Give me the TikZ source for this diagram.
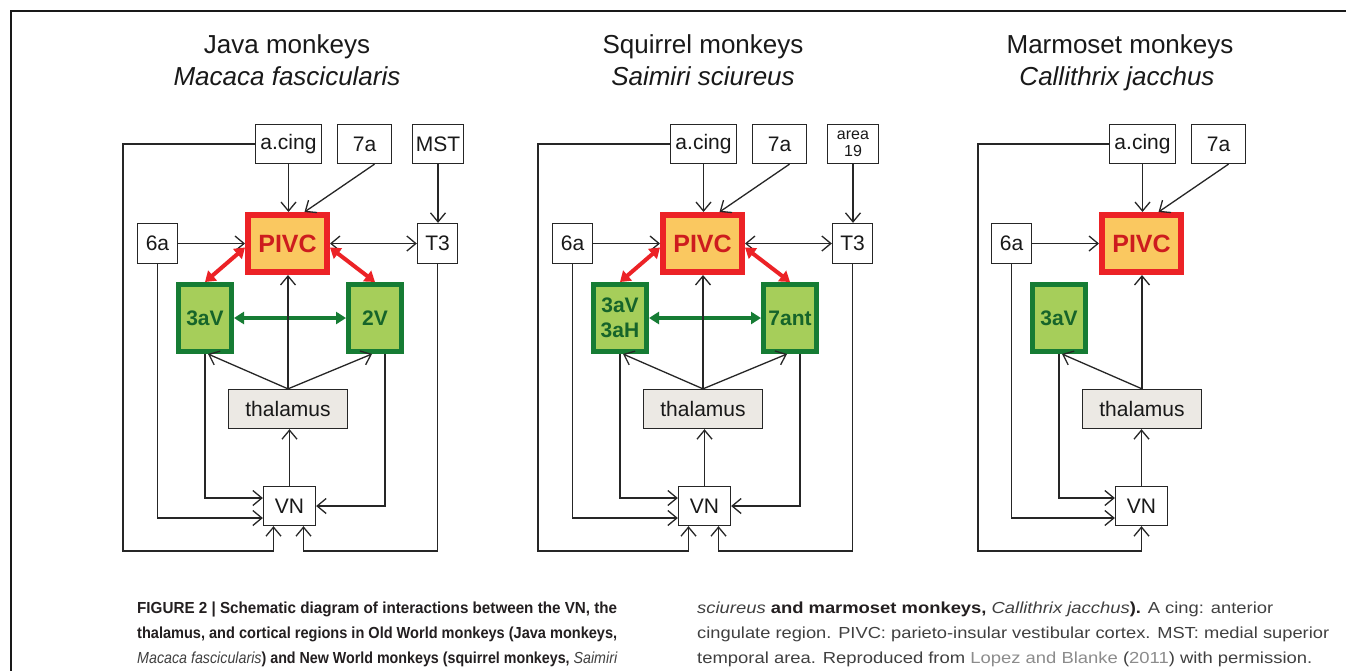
\documentclass[tikz,border=0pt]{standalone}
\usepackage{graphicx}
\usepackage{fontspec}
\setmainfont{Liberation Sans}
\usetikzlibrary{arrows.meta,calc}
\definecolor{pivcred}{RGB}{236,34,38}
\definecolor{pivcfill}{RGB}{250,200,96}
\definecolor{pivctext}{RGB}{205,28,30}
\definecolor{grnborder}{RGB}{22,124,52}
\definecolor{grnfill}{RGB}{166,206,90}
\definecolor{grntext}{RGB}{22,100,42}
\definecolor{thalfill}{RGB}{236,233,228}
\definecolor{capbold}{RGB}{35,31,32}
\definecolor{capreg}{RGB}{64,64,64}
\definecolor{caplink}{RGB}{140,140,140}
\tikzset{
  box/.style={draw=black!85, line width=1.3pt, fill=white, inner sep=0pt,
    font=\fontsize{21}{24}\selectfont, text=black!90, align=center},
  pivcbox/.style={draw=pivcred, line width=6pt, fill=pivcfill, inner sep=0pt,
    minimum width=79pt, minimum height=57pt,
    font=\bfseries\fontsize{25}{28}\selectfont, text=pivctext},
  grnbox/.style={draw=grnborder, line width=5pt, fill=grnfill, inner sep=0pt,
    minimum width=53pt, minimum height=67pt, align=center,
    font=\bfseries\fontsize{21}{25}\selectfont, text=grntext},
  thalbox/.style={box, fill=thalfill, minimum width=119pt, minimum height=39pt},
  conn/.style={draw=black!85, line width=1.3pt, -{Straight Barb[length=9pt,width=15pt]}},
  conntwo/.style={draw=black!85, line width=1.3pt,
    {Straight Barb[length=9pt,width=15pt]}-{Straight Barb[length=9pt,width=15pt]}},
  redarr/.style={draw=pivcred, line width=4pt,
    {Triangle[length=10pt,width=13pt]}-{Triangle[length=10pt,width=13pt]}},
  grnarr/.style={draw=grnborder, line width=3.5pt,
    {Triangle[length=10pt,width=12pt]}-{Triangle[length=10pt,width=12pt]}},
  ttl/.style={font=\fontsize{26}{30}\selectfont, text=black!90, anchor=base, inner sep=0pt},
  capline/.style={font=\fontsize{16}{19}\selectfont, text=capreg, anchor=base west, inner sep=0pt}
}
\newcommand\capfit[2]{\resizebox{#1}{\height}{#2}}
% #1 prefix, #2 xshift, #3 opts of top-right box, #4 its text, #5 left green, #6 right green
\newcommand\oldnewpanel[6]{%
\begin{scope}[xshift=#2pt]
\node[box, minimum width=66pt, minimum height=39pt] (#1acing) at (288.5,144) {a.cing};
\node[box, minimum width=54pt, minimum height=39pt] (#17a) at (364.5,144) {7a};
\node[box, minimum width=51pt, minimum height=39pt, #3] (#1tr) at (438,144) {#4};
\node[box, minimum width=40pt, minimum height=40pt] (#16a) at (157.5,243.5) {6a};
\node[pivcbox] (#1pivc) at (287.5,243.5) {PIVC};
\node[box, minimum width=40pt, minimum height=40pt] (#1t3) at (437.5,243.5) {T3};
\node[grnbox] (#1gl) at (205,318) {#5};
\node[grnbox] (#1gr) at (375,318) {#6};
\node[thalbox] (#1thal) at (288,409) {thalamus};
\node[box, minimum width=52pt, minimum height=39pt] (#1vn) at (289.5,506) {VN};
\coordinate (#1corner) at (123,551);
\coordinate (#1vnbl) at ([xshift=-16pt]#1vn.south);
\coordinate (#1vnbr) at ([xshift=14pt]#1vn.south);
\draw[conn] (#1acing.south) -- (#1acing.south |- #1pivc.north);
\draw[conn] ([xshift=10pt]#17a.south) -- ([xshift=17pt]#1pivc.north);
\draw[conn] (#1tr.south) -- (#1tr.south |- #1t3.north);
\draw[conn] (#16a.east) -- (#1pivc.west);
\draw[conntwo] (#1pivc.east) -- (#1t3.west);
\draw[redarr] ([yshift=-4pt]#1pivc.west) -- (#1gl.north);
\draw[redarr] ([yshift=-4pt]#1pivc.east) -- (#1gr.north);
\draw[grnarr] (#1gl.east) -- (#1gr.west);
\draw[conn] (#1thal.north) -- (#1thal.north |- #1pivc.south);
\draw[conn] (#1thal.north) -- ([xshift=3pt]#1gl.south);
\draw[conn] (#1thal.north) -- ([xshift=-3pt]#1gr.south);
\draw[conn] (#1vn.north) -- (#1vn.north |- #1thal.south);
\draw[conn] (#16a.south) |- ([yshift=-12pt]#1vn.west);
\draw[conn] (#1gl.south) |- ([yshift=8pt]#1vn.west);
\draw[conn] ([xshift=10pt]#1gr.south) |- (#1vn.east);
\draw[conn] (#1acing.west) -| (#1corner) -| (#1vnbl);
\draw[conn] (#1t3.south) |- (#1vnbr |- #1corner) -- (#1vnbr);
\end{scope}}
\begin{document}
\begin{tikzpicture}[x=1pt,y=-1pt]
\useasboundingbox (0,0) rectangle (1346,670);
\fill[white] (0,0) rectangle (1346,670);
% frame
\draw[line width=2.5pt, black!90] (11,672) -- (11,11) -- (1348,11);
% titles
\node[ttl] (tj1) at (287,53) {Java monkeys};
\node[ttl] (tj2) at (287,85) {\itshape Macaca fascicularis};
\node[ttl] (ts1) at (703,53) {Squirrel monkeys};
\node[ttl] (ts2) at (703,85) {\itshape Saimiri sciureus};
\node[ttl] (tm1) at (1120,53) {Marmoset monkeys};
\node[ttl] (tm2) at (1117,85) {\itshape Callithrix jacchus};
% Java and squirrel panels
\oldnewpanel{J}{0}{}{MST}{3aV}{2V}
\oldnewpanel{S}{415}{font=\fontsize{16}{17}\selectfont}{area\\19}{3aV\\3aH}{7ant}
% Marmoset panel
\begin{scope}[xshift=854pt]
\node[box, minimum width=66pt, minimum height=39pt] (Macing) at (288.5,144) {a.cing};
\node[box, minimum width=54pt, minimum height=39pt] (M7a) at (364.5,144) {7a};
\node[box, minimum width=40pt, minimum height=40pt] (M6a) at (157.5,243.5) {6a};
\node[pivcbox] (Mpivc) at (287.5,243.5) {PIVC};
\node[grnbox] (Mgl) at (205,318) {3aV};
\node[thalbox] (Mthal) at (288,409) {thalamus};
\node[box, minimum width=52pt, minimum height=39pt] (Mvn) at (287.5,506) {VN};
\coordinate (Mcorner) at (124,551);
\draw[conn] (Macing.south) -- (Macing.south |- Mpivc.north);
\draw[conn] ([xshift=10pt]M7a.south) -- ([xshift=17pt]Mpivc.north);
\draw[conn] (M6a.east) -- (Mpivc.west);
\draw[conn] (Mthal.north) -- (Mthal.north |- Mpivc.south);
\draw[conn] (Mthal.north) -- ([xshift=3pt]Mgl.south);
\draw[conn] (Mvn.north) -- (Mvn.north |- Mthal.south);
\draw[conn] (M6a.south) |- ([yshift=-12pt]Mvn.west);
\draw[conn] (Mgl.south) |- ([yshift=8pt]Mvn.west);
\draw[conn] (Macing.west) -| (Mcorner) -| (Mvn.south);
\end{scope}
% caption
\node[capline] (c1) at (137,613) {\capfit{480pt}{\color{capbold}\bfseries FIGURE 2 | Schematic diagram of interactions between the VN, the}};
\node[capline] (c2) at (137,638) {\capfit{480pt}{\color{capbold}\bfseries thalamus, and cortical regions in Old World monkeys (Java monkeys,}};
\node[capline] (c3) at (137,663) {\capfit{480pt}{\itshape Macaca fascicularis\/{\upshape\bfseries\color{capbold}) and New World monkeys (squirrel monkeys,} Saimiri}};
\node[capline] (c4) at (697,613) {\capfit{576pt}{{\itshape sciureus} {\bfseries\color{capbold}and marmoset monkeys,} {\itshape Callithrix jacchus}{\bfseries\color{capbold}).} A cing: anterior}};
\node[capline] (c5) at (697,638) {\capfit{632pt}{cingulate region. PIVC: parieto-insular vestibular cortex. MST: medial superior}};
\node[capline] (c6) at (697,663) {\capfit{615pt}{temporal area. Reproduced from {\color{caplink}Lopez and Blanke} ({\color{caplink}2011}) with permission.}};
\end{tikzpicture}
\end{document}
